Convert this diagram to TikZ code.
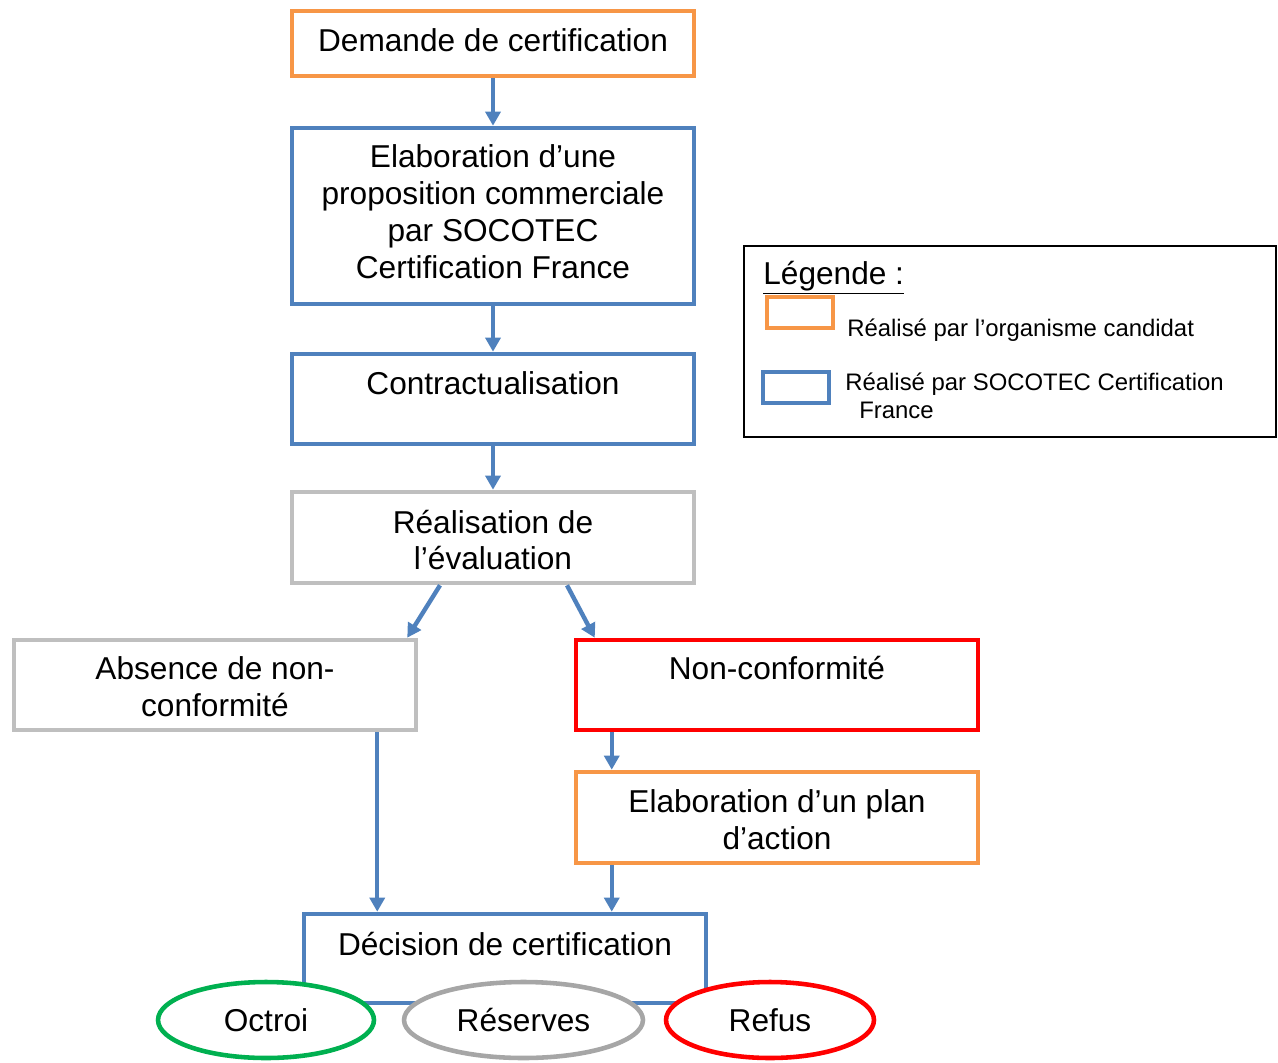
\documentclass[tikz,border=0pt]{standalone}
\usepackage{fontspec}
\setmainfont{Liberation Sans}
\usetikzlibrary{arrows.meta,shapes.geometric}

\definecolor{corange}{HTML}{F79646}
\definecolor{cblue}{HTML}{4F81BD}
\definecolor{cgray}{HTML}{BFBFBF}
\definecolor{cgrayd}{HTML}{A6A6A6}
\definecolor{cred}{HTML}{FF0000}
\definecolor{cgreen}{HTML}{00B050}

\newcommand*{\bigtxt}{\fontsize{18}{21}\selectfont}
\newcommand*{\smalltxt}{\fontsize{13.6}{16}\selectfont}

\begin{document}
\begin{tikzpicture}
[
	x=0.02cm, y=-0.02cm,
	box/.style={draw=#1,line width=2.6pt,minimum width=8.04cm,inner sep=0pt},
	txt/.style={align=center,font=\bigtxt},
	result/.style={ellipse,draw=#1,line width=2.6pt,fill=white,inner sep=0pt,minimum height=1.52cm,font=\bigtxt},
	arr/.style={-{Triangle[width=8.5pt,length=8pt]},cblue,line width=2.5pt},
	swatch/.style={draw=#1,line width=2.6pt,minimum width=1.32cm,minimum height=0.62cm,inner sep=0pt}
]

	\useasboundingbox (0,0) rectangle (1278,1062);

	% boxes
	\node[box=corange,minimum height=1.30cm] (demande) at (493,43.5) {};
	\node[txt] (demande-t) at (493,40) {Demande de certification};

	\node[box=cblue,minimum height=3.52cm] (elab) at (493,216) {};
	\node[txt] (elab-t) at (493,212) {Elaboration d’une\\proposition commerciale\\par SOCOTEC\\Certification France};

	\node[box=cblue,minimum height=1.80cm] (contract) at (493,399) {};
	\node[txt] (contract-t) at (493,383) {Contractualisation};

	\node[box=cgray,minimum height=1.82cm] (real) at (493,537.5) {};
	\node[txt] (real-t) at (493,540) {Réalisation de\\l’évaluation};

	\node[box=cgray,minimum height=1.80cm] (absence) at (215,685) {};
	\node[txt] (absence-t) at (215,687) {Absence de non-\\conformité};

	\node[box=cred,minimum height=1.80cm] (nonconf) at (777,685) {};
	\node[txt] (nonconf-t) at (777,668) {Non-conformité};

	\node[box=corange,minimum height=1.82cm] (plan) at (777,817.5) {};
	\node[txt] (plan-t) at (777,820) {Elaboration d’un plan\\d’action};

	\node[box=cblue,minimum height=1.78cm] (decision) at (505,958.5) {};
	\node[txt] (decision-t) at (505,944) {Décision de certification};

	% results
	\node[result=cgreen,minimum width=4.32cm] (octroi) at (266,1020) {Octroi};
	\node[result=cgrayd,minimum width=4.78cm] (reserves) at (523.5,1020) {Réserves};
	\node[result=cred,minimum width=4.16cm] (refus) at (770,1020) {Refus};

	% arrows
	\draw[arr] (demande.south) -- (elab.north);
	\draw[arr] (elab.south) -- (contract.north);
	\draw[arr] (contract.south) -- (real.north);
	\draw[arr] ([xshift=-1.06cm]real.south) -- ([xshift=-0.22cm]absence.north east);
	\draw[arr] ([xshift=1.48cm]real.south) -- ([xshift=0.42cm]nonconf.north west);
	\draw[arr] ([xshift=0.76cm]nonconf.south west) -- ([xshift=0.76cm]plan.north west);
	\draw[arr] ([xshift=-0.82cm]absence.south east) -- ([xshift=-0.82cm]absence.south east |- decision.north);
	\draw[arr] ([xshift=0.76cm]plan.south west) -- ([xshift=0.76cm]plan.south west |- decision.north);

	% legend
	\node[draw=black,line width=1.4pt,minimum width=10.64cm,minimum height=3.82cm,inner sep=0pt] (legend) at (1010,341.5) {};
	\node[font=\bigtxt,anchor=base west,inner sep=0pt] (legend-t) at (763,284) {\underline{Légende :}};
	\node[swatch=corange] (sw-orange) at (800,312.5) {};
	\node[font=\smalltxt,anchor=base west,inner sep=0pt] (leg-orange) at (847,336) {Réalisé par l’organisme candidat};
	\node[swatch=cblue] (sw-blue) at (796,387.5) {};
	\node[font=\smalltxt,anchor=west,align=left,inner sep=0pt] (leg-blue) at (845,396) {Réalisé par SOCOTEC Certification\\\hspace{0.28cm}France};

\end{tikzpicture}
\end{document}
